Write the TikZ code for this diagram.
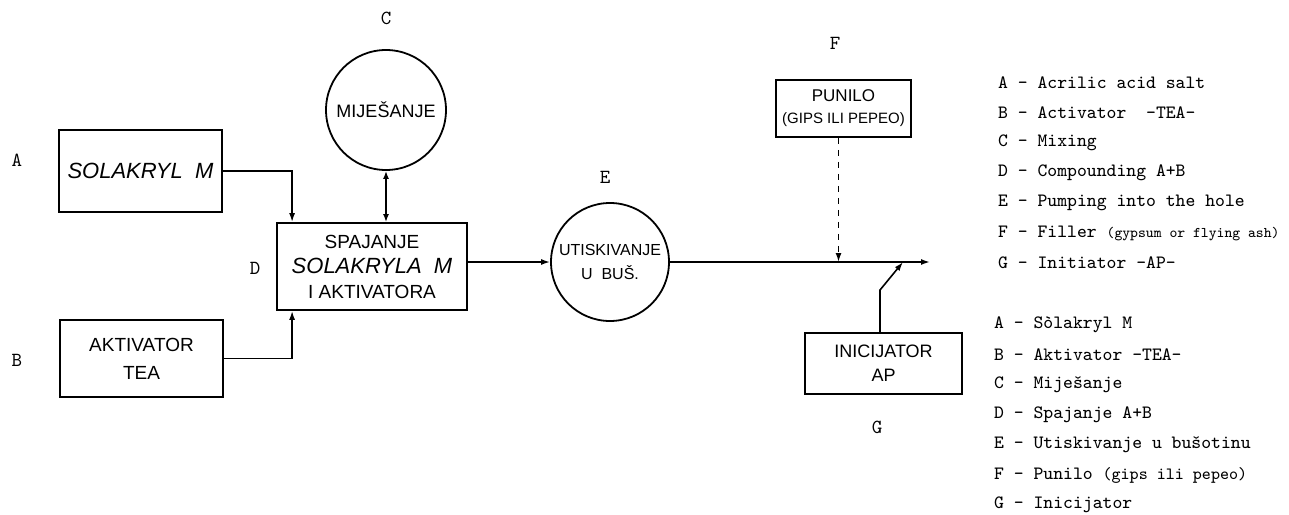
\documentclass[tikz,border=0pt]{standalone}
\usepackage{fontspec}
\setsansfont{Liberation Sans}
\usetikzlibrary{shapes, arrows.meta}

\begin{document}
\begin{tikzpicture}[
				x=0.5pt, y=-0.5pt,
				font=\sffamily,
				block/.style={draw, line width=0.9pt, align=center, inner sep=0pt},
				disc/.style={draw, circle, line width=0.9pt, align=center, inner sep=0pt, minimum size=#1},
				link/.style={-{Latex[length=4.5pt,width=3pt]}, line width=0.8pt},
				both/.style={{Latex[length=4pt,width=3pt]}-{Latex[length=4pt,width=3pt]}, line width=0.8pt},
				letter/.style={font=\ttfamily\fontsize{10}{10}\selectfont},
				legend/.style={anchor=west, font=\ttfamily\fontsize{9.4}{10}\selectfont}
				]
				\useasboundingbox (0,0) rectangle (1289,514);
				
				% process blocks
				\node[block, minimum width=81.5pt, minimum height=41pt, font=\sffamily\itshape\fontsize{11}{13}\selectfont] (A) at (140.5,171) {SOLAKRYL\ \ M};
				\node[block, minimum width=81.5pt, minimum height=38.5pt, font=\sffamily\fontsize{9.5}{14}\selectfont] (B) at (141.5,358.5) {AKTIVATOR\\TEA};
				\node[disc=60pt, font=\sffamily\fontsize{9}{11}\selectfont] (C) at (386,110) {MIJEŠANJE};
				\node[block, minimum width=95pt, minimum height=43.5pt, font=\sffamily\fontsize{9.5}{12.5}\selectfont] (D) at (372,266.5)
					{SPAJANJE\\{\itshape\fontsize{11}{12.5}\selectfont SOLAKRYLA\ \ M}\\I\ AKTIVATORA};
				\node[disc=59pt, font=\sffamily\fontsize{8}{12}\selectfont] (E) at (610,262) {UTISKIVANJE\\U\ \ BUŠ.};
				\node[block, minimum width=67.5pt, minimum height=28.5pt, font=\sffamily\fontsize{8.5}{11}\selectfont] (F) at (843.5,108.5)
					{PUNILO\\{\fontsize{7.5}{11}\selectfont(GIPS ILI PEPEO)}};
				\node[block, minimum width=78.5pt, minimum height=30.5pt, font=\sffamily\fontsize{9}{12}\selectfont] (G) at (883.5,363.5) {INICIJATOR\\AP};
				
				% letters
				\node[letter] (lA) at (17,160) {A};
				\node[letter] (lB) at (17,360) {B};
				\node[letter] (lC) at (386,18) {C};
				\node[letter] (lD) at (255,268) {D};
				\node[letter] (lE) at (605,177) {E};
				\node[letter] (lF) at (835,43) {F};
				\node[letter] (lG) at (877,427) {G};
				
				% connectors
				\coordinate (out) at (930,262);
				\coordinate (kink) at (880,290);
				\coordinate (join) at (903,262);
				\draw[link] (A.east) -| ([xshift=8pt]D.north west);
				\draw[link] (B.east) -| ([xshift=8pt]D.south west);
				\draw[both] (C.south) -- (C.south |- D.north);
				\draw[link] (D.east |- E.west) -- (E.west);
				\draw[link] (E.east) -- (out);
				\draw[link, dashed] ([xshift=-2.5pt]F.south) -- ([xshift=-2.5pt]F.south |- out);
				\draw[link] (G.north -| kink) -- (kink) -- (join);
				
				% legends
				\foreach \txt [count=\i from 0] in {A - Acrilic acid salt, B - Activator\ \ -TEA-, C - Mixing, D - Compounding A+B,
					E - Pumping into the hole, F - Filler {\fontsize{7.4}{10}\selectfont(gypsum or flying ash)}, G - Initiator -AP-}
					\node[legend] (en\i) at (991,{83+30*\i}) {\txt};
				\foreach \txt [count=\i from 0] in {A - Sòlakryl M, B - Aktivator -TEA-, C - Miješanje, D - Spajanje A+B,
					E - Utiskivanje u bušotinu, F - Punilo {\fontsize{8.6}{10}\selectfont(gips ili pepeo)}, G - Inicijator}
					\node[legend] (hr\i) at (987,{325+30*\i}) {\txt};
\end{tikzpicture}
\end{document}
